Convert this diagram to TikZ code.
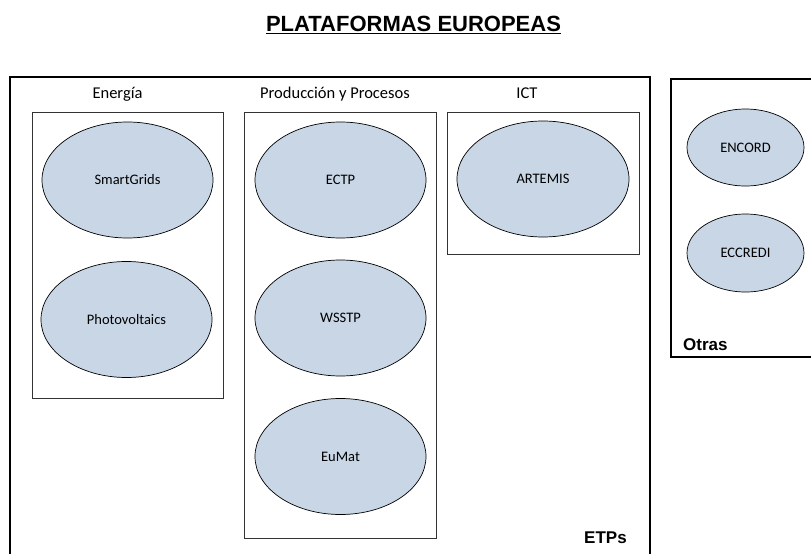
\documentclass[tikz,border=0pt]{standalone}
\usepackage{fontspec}
\setmainfont{Carlito}
\newfontfamily\arialfont{Liberation Sans}
\usetikzlibrary{shapes.geometric}
\definecolor{azulclaro}{RGB}{200,214,230}
\tikzset{
  plataforma/.style={ellipse, draw=black, line width=0.7pt, fill=azulclaro, inner sep=0pt,
    minimum width=171pt, minimum height=116pt, font=\fontsize{14.5}{17}\selectfont},
  plataformapeq/.style={plataforma, minimum width=117pt, minimum height=77pt},
  grupo/.style={draw=black!80, line width=0.8pt},
  marco/.style={draw=black, line width=1.3pt},
  titulogrupo/.style={anchor=base, inner sep=0pt, font=\fontsize{16.5}{19}\selectfont},
  etiqueta/.style={anchor=base, inner sep=0pt, font=\arialfont\bfseries\fontsize{17}{20}\selectfont}
}
\begin{document}
\begin{tikzpicture}[x=1pt, y=-1pt]
\useasboundingbox (0,0) rectangle (811,554);

% Título subrayado
\node[anchor=base, inner sep=0pt, font=\arialfont\bfseries\fontsize{22}{26}\selectfont] (titulo) at (413.5,31) {PLATAFORMAS EUROPEAS};
\draw[line width=1.6pt] ([yshift=-2.5pt]titulo.base west) -- ([yshift=-2.5pt]titulo.base east);

% Marco de las ETPs (abierto por abajo) y marco de Otras (abierto a la derecha)
\draw[marco] (10,554) -- (10,77) -- (650,77) -- (650,554);
\draw[marco] (811,79) -- (671,79) -- (671,357) -- (811,357);
\node[etiqueta] (etps) at (605.5,543) {ETPs};
\node[etiqueta, anchor=base west] (otras) at (683,350) {Otras};

% Grupo Energía
\node[titulogrupo] (energia) at (117.5,98) {Energía};
\draw[grupo] (32,112) rectangle (223,398);
\node[plataforma] (smartgrids) at (127.5,180) {SmartGrids};
\node[plataforma] (photovoltaics) at (126.5,319.5) {Photovoltaics};

% Grupo Producción y Procesos
\node[titulogrupo] (produccion) at (335,98) {Producción y Procesos};
\draw[grupo] (244,112) rectangle (436,538);
\node[plataforma] (ectp) at (340.5,180) {ECTP};
\node[plataforma] (wsstp) at (340.5,318) {WSSTP};
\node[plataforma] (eumat) at (340.5,456.5) {EuMat};

% Grupo ICT
\node[titulogrupo] (ict) at (527,98) {ICT};
\draw[grupo] (447,112) rectangle (639,254);
\node[plataforma, minimum width=172pt] (artemis) at (543,179) {ARTEMIS};

% Otras plataformas
\node[plataformapeq] (encord) at (745.5,147.5) {ENCORD};
\node[plataformapeq, minimum height=78pt] (eccredi) at (745.5,253) {ECCREDI};
\end{tikzpicture}
\end{document}
